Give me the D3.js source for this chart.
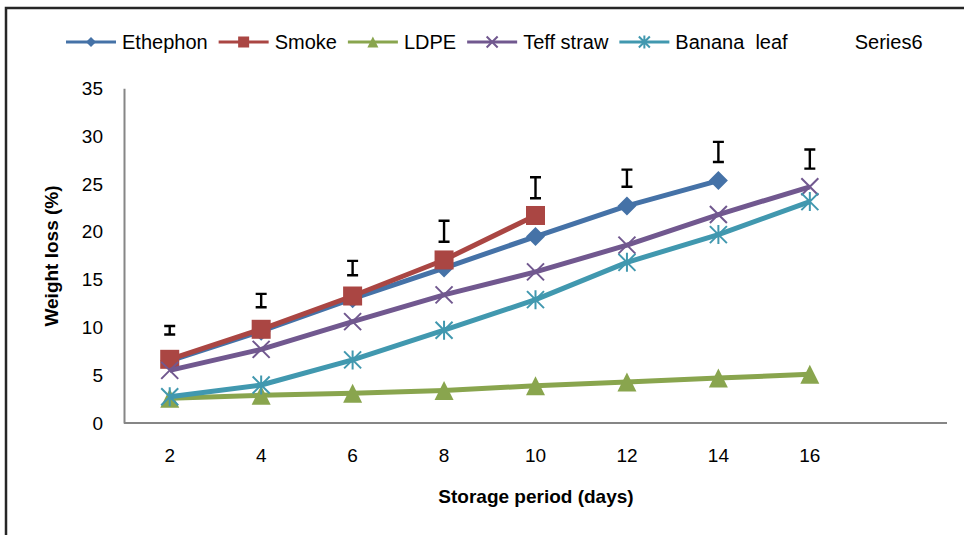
<!DOCTYPE html>
<html>
<head>
<meta charset="utf-8">
<script src="https://cdn.jsdelivr.net/npm/d3@7.9.0/dist/d3.min.js"></script>
<style>
  body { margin: 0; background: #fff; }
  svg { display: block; font-family: "Liberation Sans", Arial, sans-serif; }
  .legend text { white-space: pre; }
</style>
</head>
<body>
<svg width="964" height="535"></svg>
<script>
// data
const days = ['2', '4', '6', '8', '10', '12', '14', '16'];
const ethephon = [6.5, 9.6, 13.0, 16.2, 19.5, 22.7, 25.35];
const smoke = [6.66, 9.8, 13.28, 17.05, 21.7];
const ldpe = [2.6, 2.9, 3.1, 3.4, 3.9, 4.3, 4.7, 5.1];
const teffStraw = [5.5, 7.7, 10.6, 13.4, 15.8, 18.6, 21.8, 24.7];
const bananaLeaf = [2.75, 3.97, 6.6, 9.7, 12.9, 16.8, 19.7, 23.15];
// Series6 has no line/marker, only error bars
const series6 = [9.7, 12.8, 16.2, 20.05, 24.6, 25.6, 28.35, 27.6];
const series6Err = [0.45, 0.7, 0.75, 1.1, 1.1, 0.9, 1.05, 1.0];
const yTicks = [0, 5, 10, 15, 20, 25, 30, 35];

const series = [
    { name: 'Ethephon', values: ethephon, color: '#4572A7', marker: 'diamond' },
    { name: 'Smoke', values: smoke, color: '#AA4643', marker: 'square' },
    { name: 'LDPE', values: ldpe, color: '#89A54E', marker: 'triangle' },
    { name: 'Teff straw', values: teffStraw, color: '#71588F', marker: 'cross' },
    { name: 'Banana  leaf', values: bananaLeaf, color: '#4198AF', marker: 'star' },
    { name: 'Series6', values: [], color: 'none', marker: 'none' }
];

const svg = d3.select('svg');

// outer frame (partly cropped in the original)
svg.append('rect')
    .attr('x', 6).attr('y', 8)
    .attr('width', 970).attr('height', 540)
    .attr('fill', 'none')
    .attr('stroke', '#262626')
    .attr('stroke-width', 2.5);

// 9 category slots, last one empty
const x = d3.scaleBand().domain(d3.range(days.length + 1)).range([124, 947]);
const cx = (i) => x(i) + x.bandwidth() / 2;
const y = d3.scaleLinear().domain([0, 35]).range([423, 88.3]);

// axes
const xAxis = svg.append('g')
    .attr('transform', 'translate(0,423)')
    .call(d3.axisBottom(x)
        .tickValues(d3.range(days.length))
        .tickFormat((i) => days[i])
        .tickSize(0)
        .tickPadding(26));
xAxis.select('.domain').attr('d', 'M124,0H947');

const yAxis = svg.append('g')
    .attr('transform', 'translate(124,0)')
    .call(d3.axisLeft(y).tickValues(yTicks).tickSize(0).tickPadding(21));

[xAxis, yAxis].forEach((g) => {
    g.select('.domain').attr('stroke', '#868686').attr('stroke-width', 2);
    g.selectAll('text')
        .attr('font-family', '"Liberation Sans", Arial, sans-serif')
        .attr('font-size', 19)
        .attr('fill', '#000');
});

// axis titles
svg.append('text')
    .attr('x', 536).attr('y', 503)
    .attr('text-anchor', 'middle')
    .attr('font-size', 19).attr('font-weight', 'bold')
    .text('Storage period (days)');

svg.append('text')
    .attr('transform', 'translate(58,256) rotate(-90)')
    .attr('text-anchor', 'middle')
    .attr('font-size', 19).attr('font-weight', 'bold')
    .text('Weight loss (%)');

// marker drawing
function drawMarker(g, type, color, s) {
    const h = s / 2;
    if (type === 'diamond') {
        g.append('path').attr('d', `M0,${-h}L${h},0L0,${h}L${-h},0Z`).attr('fill', color);
    } else if (type === 'square') {
        g.append('rect').attr('x', -h).attr('y', -h).attr('width', s).attr('height', s).attr('fill', color);
    } else if (type === 'triangle') {
        g.append('path').attr('d', `M0,${-h}L${h},${h}L${-h},${h}Z`).attr('fill', color);
    } else if (type === 'cross') {
        g.append('path').attr('d', `M${-h},${-h}L${h},${h}M${-h},${h}L${h},${-h}`)
            .attr('stroke', color).attr('stroke-width', 2);
    } else if (type === 'star') {
        g.append('path').attr('d', `M${-h},${-h}L${h},${h}M${-h},${h}L${h},${-h}M0,${-h - 1}V${h + 1}`)
            .attr('stroke', color).attr('stroke-width', 2);
    }
}

const line = d3.line().x((d, i) => cx(i)).y((d) => y(d));

const plot = svg.append('g');
series.forEach((s) => {
    if (!s.values.length) return;
    plot.append('path')
        .datum(s.values)
        .attr('d', line)
        .attr('fill', 'none')
        .attr('stroke', s.color)
        .attr('stroke-width', 5)
        .attr('stroke-linejoin', 'round');
    s.values.forEach((v, i) => {
        const g = plot.append('g').attr('transform', `translate(${cx(i)},${y(v)})`);
        drawMarker(g, s.marker, s.color, s.marker === 'cross' || s.marker === 'star' ? 17 : 19);
    });
});

// error bars of Series6
series6.forEach((v, i) => {
    const top = y(v + series6Err[i]);
    const bot = y(v - series6Err[i]);
    const px = cx(i);
    plot.append('path')
        .attr('d', `M${px},${top}V${bot}M${px - 5.5},${top}H${px + 5.5}M${px - 5.5},${bot}H${px + 5.5}`)
        .attr('stroke', '#000')
        .attr('stroke-width', 2.4)
        .attr('fill', 'none');
});

// legend
const legend = svg.append('g').attr('class', 'legend');
let lx = 66;
series.forEach((s) => {
    const g = legend.append('g').attr('transform', `translate(${lx},42)`);
    if (s.color !== 'none') {
        g.append('line').attr('x1', 0).attr('x2', 50).attr('y1', 0).attr('y2', 0)
            .attr('stroke', s.color).attr('stroke-width', 3);
        const m = g.append('g').attr('transform', 'translate(25,0)');
        drawMarker(m, s.marker, s.color, s.marker === 'diamond' ? 10 : 11);
    }
    const t = g.append('text')
        .attr('x', 56).attr('y', 7)
        .attr('font-size', 20)
        .attr('fill', '#000')
        .text(s.name);
    lx += 56 + t.node().getComputedTextLength() + 11;
});
</script>
</body>
</html>
